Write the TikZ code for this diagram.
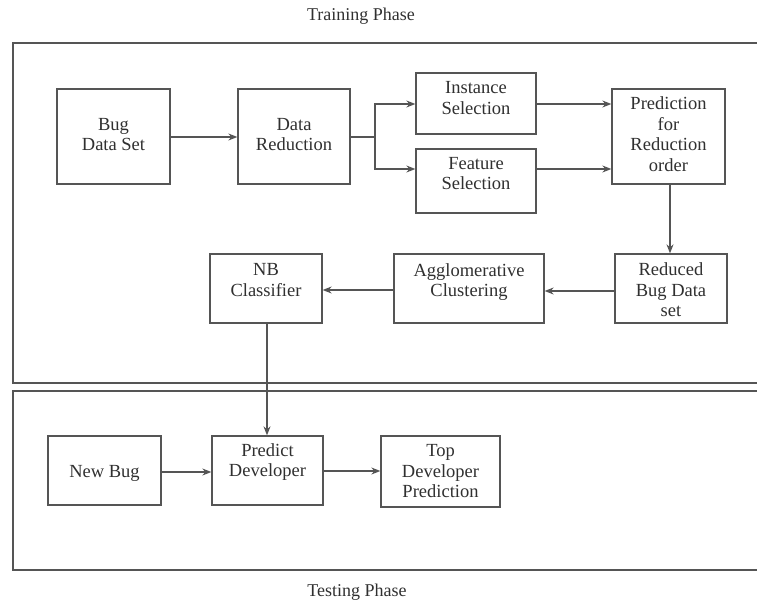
\documentclass[tikz,border=0pt]{standalone}
\usepackage{fontspec}
\setmainfont{Liberation Serif}
\usetikzlibrary{arrows.meta}
\definecolor{linegray}{HTML}{555555}
\definecolor{textgray}{HTML}{303030}
\newcommand\liftedtext[2]{\raisebox{#1}[\height][\depth]{\begin{tabular}{@{}c@{}}#2\end{tabular}}}
\begin{document}
\begin{tikzpicture}[x=1pt,y=-1pt,
  box/.style={draw=linegray, line width=1.3pt, fill=white, align=center, inner sep=0pt,
    font=\fontsize{18.5}{20.5}\selectfont, text=textgray},
  arr/.style={draw=linegray, line width=1.3pt, -{Stealth[length=9pt,width=7pt]}},
  frame/.style={draw=linegray, line width=1.4pt},
  phase/.style={font=\fontsize{18}{20}\selectfont, text=textgray, inner sep=0pt}]
\useasboundingbox (0,0) rectangle (757,604);
% phase frames (open on the right, cut by the picture edge)
\draw[frame] (757,43) -- (13,43) -- (13,383) -- (757,383);
\draw[frame] (757,391) -- (13,391) -- (13,570) -- (757,570);
\node[phase] (train) at (361,16) {Training Phase};
\node[phase] (test) at (357,592) {Testing Phase};
% training boxes
\node[box, minimum width=113pt, minimum height=95pt] (bug) at (113.5,136.5) {\liftedtext{0pt}{Bug\\Data Set}};
\node[box, minimum width=112pt, minimum height=95pt] (red) at (294,136.5) {\liftedtext{0pt}{Data\\Reduction}};
\node[box, minimum width=120pt, minimum height=61pt] (inst) at (476,103.5) {\liftedtext{3.5pt}{Instance\\Selection}};
\node[box, minimum width=120pt, minimum height=64pt] (feat) at (476,181) {\liftedtext{5.5pt}{Feature\\Selection}};
\node[box, minimum width=113pt, minimum height=95pt] (pred) at (668.5,136.5) {\liftedtext{0pt}{Prediction\\for\\Reduction\\order}};
\node[box, minimum width=112pt, minimum height=69pt] (rbug) at (671,288.5) {\liftedtext{-3.5pt}{Reduced\\Bug Data\\set}};
\node[box, minimum width=150pt, minimum height=69pt] (aggl) at (469,288.5) {\liftedtext{6pt}{Agglomerative\\Clustering}};
\node[box, minimum width=112pt, minimum height=69pt] (nb) at (266,288.5) {\liftedtext{6.5pt}{NB\\Classifier}};
% testing boxes
\node[box, minimum width=113pt, minimum height=69pt] (new) at (104.5,470.5) {\liftedtext{-2.5pt}{New Bug}};
\node[box, minimum width=111pt, minimum height=69pt] (pdev) at (267.5,470.5) {\liftedtext{8pt}{Predict\\Developer}};
\node[box, minimum width=119pt, minimum height=71pt] (top) at (440.5,471.5) {\liftedtext{-1.5pt}{Top\\Developer\\Prediction}};
% connectors
\coordinate (split) at (375,137);
\draw[arr] (bug.east |- 0,137) -- (red.west |- 0,137);
\draw[draw=linegray, line width=1.3pt] (red.east |- split) -- (split);
\draw[arr] (split) |- (inst.west |- 0,104);
\draw[arr] (split) |- (feat.west |- 0,169);
\draw[arr] (inst.east |- 0,104) -- (pred.west |- 0,104);
\draw[arr] (feat.east |- 0,169) -- (pred.west |- 0,169);
\draw[arr] (pred.south -| 670,0) -- (rbug.north -| 670,0);
\draw[arr] (rbug.west |- 0,291) -- (aggl.east |- 0,291);
\draw[arr] (aggl.west |- 0,290) -- (nb.east |- 0,290);
\draw[arr] (nb.south -| 267,0) -- (pdev.north -| 267,0);
\draw[arr] (new.east |- 0,472) -- (pdev.west |- 0,472);
\draw[arr] (pdev.east |- 0,471) -- (top.west |- 0,471);
\end{tikzpicture}
\end{document}
